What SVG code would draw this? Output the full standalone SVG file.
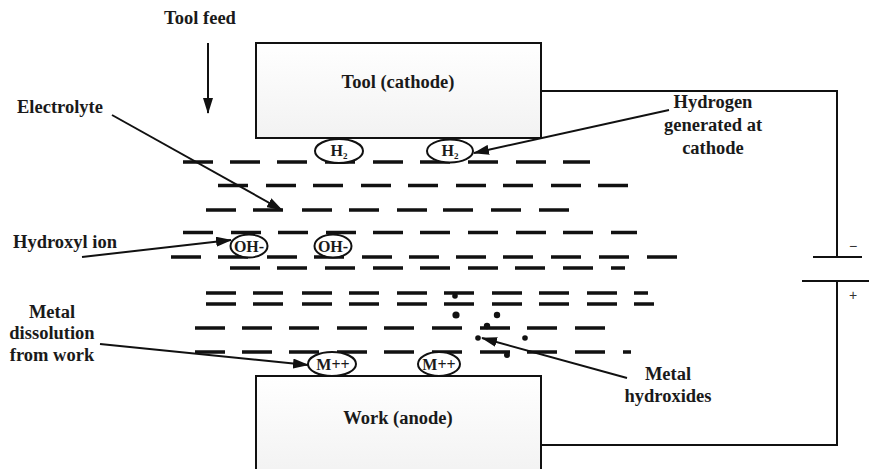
<svg xmlns="http://www.w3.org/2000/svg" width="869" height="469" viewBox="0 0 869 469">
<style>
.t{font-family:"Liberation Serif","Times New Roman",serif;font-weight:bold;font-size:18.5px;fill:#1a1a1a;text-anchor:middle}
.s{font-family:"Liberation Serif","Times New Roman",serif;font-weight:bold;font-size:16px;fill:#1a1a1a;text-anchor:middle}
.box{fill:url(#g);stroke:#111;stroke-width:2}
.ion{fill:#fff;stroke:#111;stroke-width:2}
.dash{fill:none;stroke:#111;stroke-width:3.6}
.wire{fill:none;stroke:#111;stroke-width:2}
.arr{fill:none;stroke:#111;stroke-width:2;marker-end:url(#ah)}
.dot{fill:#111}
</style>
<defs>
<linearGradient id="g" x1="0" y1="0" x2="0" y2="1">
<stop offset="0" stop-color="#ffffff"/>
<stop offset="1" stop-color="#f2f2f2"/>
</linearGradient>
<marker id="ah" markerWidth="16" markerHeight="10" refX="15" refY="5" orient="auto" markerUnits="userSpaceOnUse">
<path d="M0,0 L16,5 L0,10 Z" fill="#111"/>
</marker>
</defs>
<rect width="869" height="469" fill="#fff"/>

<g id="electrolyte-dashes" class="dash">
<path d="M183,162h30M230,162h30M277,162h30M325,162h30M373,162h30M420,162h30M468,162h30M516,162h30M563,162h27"/>
<path d="M218,185.5h30M266,185.5h30M313,185.5h30M361,185.5h30M408,185.5h30M456,185.5h30M503,185.5h30M551,185.5h30M598,185.5h30"/>
<path d="M206,210h30M253,210h30M302,210h30M349,210h30M397,210h30M443,210h30M491,210h30M539,210h30"/>
<path d="M183,232.5h30M231,232.5h30M278,232.5h30M326,232.5h30M373,232.5h30M420,232.5h30M468,232.5h30M516,232.5h30M563,232.5h30M611,232.5h26"/>
<path d="M171,257h30M218,257h30M267,257h30M314,257h30M362,257h30M409,257h30M456,257h30M503,257h30M551,257h30M599,257h30M647,257h30"/>
<path d="M230,268h30M277,268h30M325,268h30M373,268h30M420,268h30M468,268h30M515,268h30M563,268h30M611,268h14"/>
<path d="M206,293h30M253,293h30M302,293h30M349,293h30M397,293h30M444,293h30M492,293h30M539,293h30M587,293h30M634,293h14"/>
<path d="M206,304h30M253,304h30M302,304h30M349,304h30M397,304h30M444,304h30M492,304h30M539,304h30M587,304h30M634,304h20"/>
<path d="M195,328h30M242,328h30M289,328h30M337,328h30M384,328h30M432,328h30M480,328h30M527,328h30M575,328h30"/>
<path d="M195,352h30M242,352h30M289,352h30M337,352h30M384,352h30M432,352h30M480,352h30M527,352h30M575,352h30M623,352h8"/>
</g>

<g id="tool">
<rect class="box" x="256" y="43" width="285" height="95"/>
<text class="t" x="398" y="88">Tool (cathode)</text>
</g>

<g id="work">
<rect class="box" x="256" y="376" width="285" height="100"/>
<text class="t" x="398" y="424">Work (anode)</text>
</g>

<g id="battery">
<path class="wire" d="M813,257H862M802,281H869"/>
<text x="853" y="251" font-family="Liberation Sans,Arial,sans-serif" font-size="14" fill="#333" text-anchor="middle">−</text>
<text x="853" y="300" font-family="Liberation Sans,Arial,sans-serif" font-size="14" fill="#333" text-anchor="middle">+</text>
</g>

<g id="ion-h2-1">
<ellipse class="ion" cx="339" cy="151" rx="24" ry="12"/>
<text class="s" x="339" y="156" font-size="14">H<tspan font-size="9" dy="3">2</tspan></text>
</g>
<g id="ion-h2-2">
<ellipse class="ion" cx="450" cy="151" rx="23" ry="11.5"/>
<text class="s" x="450" y="156" font-size="14">H<tspan font-size="9" dy="3">2</tspan></text>
</g>
<g id="ion-oh-1">
<ellipse class="ion" cx="249" cy="246" rx="18.5" ry="11.5"/>
<text class="s" x="249" y="251.5">OH-</text>
</g>
<g id="ion-oh-2">
<ellipse class="ion" cx="333" cy="246" rx="18.5" ry="11.5"/>
<text class="s" x="333" y="251.5">OH-</text>
</g>
<g id="ion-m-1">
<ellipse class="ion" cx="332" cy="364" rx="24" ry="12"/>
<text class="s" x="333" y="369.5">M++</text>
</g>
<g id="ion-m-2">
<ellipse class="ion" cx="439" cy="364" rx="21" ry="12"/>
<text class="s" x="439" y="369.5">M++</text>
</g>

<g id="hydroxide-dots">
<circle class="dot" cx="455" cy="296" r="2.8"/>
<circle class="dot" cx="456" cy="315" r="3.6"/>
<circle class="dot" cx="497" cy="315" r="3.2"/>
<circle class="dot" cx="487" cy="326" r="3.2"/>
<circle class="dot" cx="478" cy="338" r="2.8"/>
<circle class="dot" cx="525" cy="338" r="2.8"/>
<circle class="dot" cx="507" cy="355" r="3"/>
</g>

<g id="label-tool-feed"><text class="t" x="200" y="24">Tool feed</text></g>
<g id="label-electrolyte"><text class="t" x="60" y="113">Electrolyte</text></g>
<g id="label-hydroxyl"><text class="t" x="65" y="248">Hydroxyl ion</text></g>
<g id="label-metal-dissolution">
<text class="t" x="52" y="318">Metal</text>
<text class="t" x="52" y="339">dissolution</text>
<text class="t" x="52" y="361">from work</text>
</g>
<g id="label-hydrogen">
<text class="t" x="713" y="108">Hydrogen</text>
<text class="t" x="713" y="131">generated at</text>
<text class="t" x="713" y="154">cathode</text>
</g>
<g id="label-hydroxides">
<text class="t" x="668" y="380">Metal</text>
<text class="t" x="668" y="402">hydroxides</text>
</g>

<g id="connectors">
<path class="wire" d="M541,91H837V257"/>
<path class="wire" d="M837,281V445H541"/>
<path class="arr" d="M208,43V113"/>
<path class="arr" d="M112,115L282,210"/>
<path class="arr" d="M669,110L474,153"/>
<path class="arr" d="M82,257L231,240"/>
<path class="arr" d="M100,344L308,365"/>
<path class="arr" d="M627,378L482,338"/>
</g>
</svg>
